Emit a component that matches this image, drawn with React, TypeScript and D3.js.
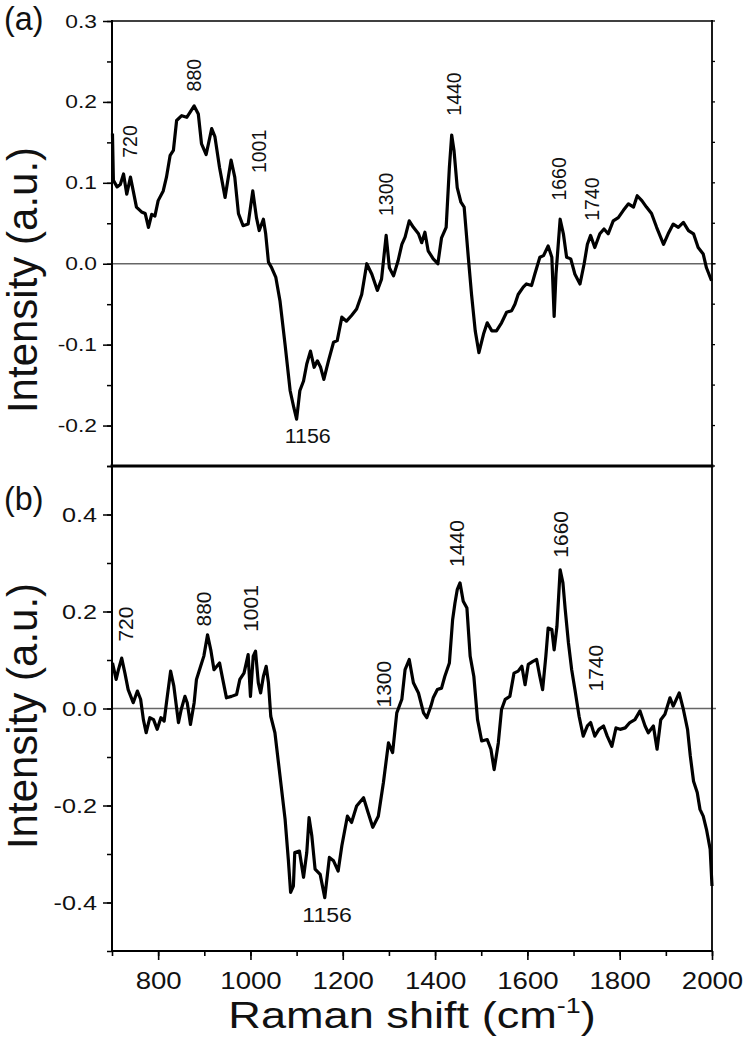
import React, { useRef, useEffect } from 'react';
import * as d3 from 'd3';

// panel (a): Raman shift (cm-1) and intensity
const shiftA = [
  701, 703, 711, 718, 725, 732, 740, 746, 753, 764, 772, 779, 786, 793, 800, 811, 818, 826, 833, 840,
  851, 862, 869, 878, 887, 894, 904, 916, 923, 933, 945, 952, 958, 966, 974, 984, 995, 1005, 1013, 1019,
  1028, 1033, 1039, 1046, 1055, 1064, 1075, 1086, 1094, 1100, 1107, 1115, 1122, 1130, 1138, 1145, 1152, 1159, 1169, 1180,
  1188, 1198, 1208, 1219, 1230, 1241, 1252, 1263, 1275, 1284, 1294, 1301, 1310, 1320, 1328, 1335, 1344, 1353, 1364, 1371,
  1378, 1385, 1396, 1406, 1414, 1424, 1431, 1436, 1441, 1448, 1456, 1463, 1472, 1479, 1487, 1495, 1505, 1513, 1523, 1533,
  1544, 1555, 1566, 1573, 1580, 1591, 1598, 1609, 1616, 1627, 1635, 1645, 1653, 1658, 1662, 1671, 1678, 1685, 1694, 1703,
  1714, 1723, 1730, 1737, 1746, 1757, 1766, 1775, 1786, 1797, 1808, 1819, 1830, 1838, 1848, 1858, 1869, 1880, 1895, 1905,
  1916, 1927, 1938, 1949, 1960, 1970, 1981, 1988, 1999,
];
const intensityA = [
  0.161, 0.103, 0.095, 0.098, 0.111, 0.086, 0.107, 0.09, 0.07, 0.064, 0.062, 0.045, 0.061, 0.059, 0.078, 0.09, 0.107, 0.134, 0.14, 0.177,
  0.183, 0.181, 0.187, 0.195, 0.185, 0.148, 0.135, 0.167, 0.157, 0.119, 0.082, 0.107, 0.128, 0.107, 0.062, 0.047, 0.049, 0.09, 0.057, 0.041,
  0.055, 0.037, 0.002, -0.005, -0.017, -0.046, -0.1, -0.157, -0.178, -0.192, -0.157, -0.145, -0.124, -0.108, -0.128, -0.12, -0.128, -0.143, -0.12, -0.097,
  -0.095, -0.066, -0.071, -0.064, -0.056, -0.038, 0.0, -0.013, -0.033, -0.019, 0.035, -0.005, -0.015, 0.004, 0.024, 0.033, 0.053, 0.045, 0.037, 0.026,
  0.039, 0.016, 0.006, 0.0, 0.032, 0.045, 0.119, 0.159, 0.14, 0.094, 0.076, 0.07, 0.008, -0.038, -0.083, -0.11, -0.087, -0.073, -0.083, -0.083,
  -0.073, -0.06, -0.058, -0.05, -0.038, -0.029, -0.025, -0.027, -0.013, 0.008, 0.01, 0.022, 0.008, -0.065, -0.013, 0.055, 0.037, 0.008, 0.006, -0.013,
  -0.025, 0.0, 0.024, 0.035, 0.02, 0.037, 0.043, 0.037, 0.053, 0.057, 0.066, 0.074, 0.07, 0.084, 0.078, 0.07, 0.062, 0.045, 0.024, 0.037,
  0.049, 0.045, 0.051, 0.041, 0.037, 0.02, 0.012, -0.005, -0.021,
];

// panel (b)
const shiftB = [
  701, 709, 714, 721, 728, 735, 746, 755, 762, 768, 774, 782, 790, 798, 806, 813, 818, 827, 834, 844,
  850, 858, 863, 870, 878, 883, 892, 899, 907, 914, 921, 933, 940, 948, 959, 970, 977, 986, 995, 1000,
  1006, 1011, 1017, 1022, 1028, 1034, 1039, 1044, 1053, 1064, 1075, 1082, 1087, 1093, 1096, 1106, 1115, 1122, 1127, 1133,
  1140, 1151, 1161, 1171, 1180, 1190, 1198, 1210, 1219, 1230, 1245, 1255, 1265, 1277, 1288, 1299, 1308, 1317, 1328, 1335,
  1344, 1353, 1364, 1375, 1382, 1391, 1396, 1405, 1414, 1421, 1431, 1438, 1443, 1448, 1454, 1461, 1469, 1476, 1484, 1492,
  1501, 1513, 1521, 1528, 1537, 1544, 1552, 1562, 1571, 1580, 1588, 1595, 1602, 1612, 1620, 1627, 1633, 1640, 1645, 1653,
  1658, 1664, 1671, 1677, 1682, 1689, 1696, 1703, 1712, 1721, 1730, 1737, 1746, 1755, 1765, 1773, 1783, 1792, 1801, 1812,
  1822, 1833, 1844, 1855, 1862, 1873, 1881, 1889, 1898, 1909, 1916, 1929, 1938, 1947, 1953, 1960, 1968, 1974, 1981, 1988,
  1996, 2000,
];
const intensityB = [
  0.094, 0.06, 0.08, 0.104, 0.073, 0.039, 0.012, 0.036, 0.019, -0.023, -0.05, -0.019, -0.023, -0.043, -0.019, -0.026, 0.012, 0.077, 0.046, -0.029,
  -0.002, 0.025, 0.012, -0.033, 0.012, 0.06, 0.087, 0.108, 0.152, 0.121, 0.08, 0.094, 0.06, 0.022, 0.025, 0.029, 0.06, 0.073, 0.111, 0.025,
  0.108, 0.118, 0.053, 0.032, 0.066, 0.087, 0.053, -0.016, -0.05, -0.139, -0.228, -0.311, -0.379, -0.366, -0.297, -0.294, -0.348, -0.297, -0.225, -0.263,
  -0.331, -0.342, -0.39, -0.307, -0.314, -0.335, -0.283, -0.222, -0.235, -0.201, -0.184, -0.215, -0.245, -0.222, -0.153, -0.071, -0.091, -0.009, 0.019, 0.08,
  0.101, 0.053, 0.032, -0.009, -0.019, 0.005, 0.022, 0.039, 0.042, 0.066, 0.094, 0.183, 0.217, 0.245, 0.259, 0.221, 0.207, 0.108, 0.066, -0.023,
  -0.067, -0.064, -0.084, -0.126, -0.071, -0.002, 0.019, 0.025, 0.073, 0.077, 0.087, 0.049, 0.091, 0.097, 0.101, 0.066, 0.039, 0.108, 0.166, 0.163,
  0.121, 0.169, 0.286, 0.259, 0.204, 0.135, 0.08, 0.039, -0.016, -0.057, -0.036, -0.029, -0.057, -0.043, -0.036, -0.057, -0.078, -0.04, -0.043, -0.04,
  -0.029, -0.023, -0.005, -0.036, -0.05, -0.036, -0.084, -0.023, -0.012, 0.022, 0.005, 0.032, -0.002, -0.043, -0.098, -0.15, -0.173, -0.208, -0.222, -0.249,
  -0.29, -0.366,
];

const xTicks = [800, 1000, 1200, 1400, 1600, 1800, 2000];
const yTicksA = [0.3, 0.2, 0.1, 0, -0.1, -0.2];
const yTicksB = [0.4, 0.2, 0, -0.2, -0.4];

// band assignments written over the peaks, anchored in data units (shift, intensity)
const peakLabels = ['720', '880', '1001', '1300', '1440', '1660', '1740'];
const peakShiftA = [738, 877, 1018, 1293, 1441, 1669, 1741];
const peakLevelA = [0.131, 0.213, 0.112, 0.059, 0.183, 0.078, 0.053];
const peakShiftB = [729, 899, 1001, 1288, 1446, 1671, 1747];
const peakLevelB = [0.138, 0.169, 0.158, 0.002, 0.292, 0.311, 0.035];
const dipLabel = '1156';
const dipA = [1124, -0.221];
const dipB = [1166, -0.44];

const font = "'Liberation Sans', Arial, Helvetica, sans-serif";

function App() {
  const svgRef = useRef(null);

  useEffect(() => {
    const svg = d3.select(svgRef.current);
    svg.selectAll('*').remove();

    const left = 112;
    const right = 712;
    const x = d3.scaleLinear().domain([700, 2000]).range([left, right]);
    const yA = d3.scaleLinear().domain([-0.25, 0.3]).range([466, 21]);
    const yB = d3.scaleLinear().domain([-0.5, 0.5]).range([951, 466]);

    const panels = [
      {
        y: yA, shifts: shiftA, values: intensityA, ticks: yTicksA, step: 0.05, tickFs: 19,
        peakShift: peakShiftA, peakLevel: peakLevelA, peakFs: 19.5, dip: dipA, titleY: 280,
        letter: '(a)', letterY: 30, rightTicks: true,
      },
      {
        y: yB, shifts: shiftB, values: intensityB, ticks: yTicksB, step: 0.1, tickFs: 21,
        peakShift: peakShiftB, peakLevel: peakLevelB, peakFs: 21, dip: dipB, titleY: 716,
        letter: '(b)', letterY: 510, rightTicks: false,
      },
    ];

    panels.forEach((p) => {
      const [lo, hi] = p.y.domain();
      const minor = d3.range(Math.round((hi - lo) / p.step) + 1).map((i) => lo + i * p.step);

      // zero line
      svg.append('line')
        .attr('x1', left).attr('x2', right + 4)
        .attr('y1', p.y(0)).attr('y2', p.y(0))
        .attr('stroke', '#666').attr('stroke-width', 1.3);

      // spectrum
      const pts = p.shifts.map((s, i) => [s, p.values[i]]);
      svg.append('path')
        .datum(pts)
        .attr('fill', 'none')
        .attr('stroke', '#000')
        .attr('stroke-width', 3.2)
        .attr('stroke-linejoin', 'round')
        .attr('d', d3.line().x((d) => x(d[0])).y((d) => p.y(d[1])));

      // minor y ticks
      svg.append('g')
        .attr('transform', `translate(${left},0)`)
        .call(d3.axisLeft(p.y).tickValues(minor).tickSize(5).tickFormat(() => ''))
        .call((g) => g.select('.domain').remove())
        .call((g) => g.selectAll('line').attr('stroke-width', 1.5));

      // major y ticks + labels
      svg.append('g')
        .attr('transform', `translate(${left},0)`)
        .call(d3.axisLeft(p.y).tickValues(p.ticks).tickSize(9).tickPadding(3.5)
          .tickFormat((d) => (+d).toFixed(1)))
        .call((g) => g.select('.domain').remove())
        .call((g) => g.selectAll('line').attr('stroke-width', 1.5))
        .call((g) => g.selectAll('text')
          .attr('font-size', p.tickFs)
          .attr('font-family', font)
          .attr('fill', '#111')
          .attr('transform', 'scale(1.2,1)'));

      if (p.rightTicks) {
        svg.append('g')
          .selectAll('line')
          .data(minor)
          .join('line')
          .attr('x1', right).attr('x2', right + 3)
          .attr('y1', (d) => p.y(d)).attr('y2', (d) => p.y(d))
          .attr('stroke', '#000').attr('stroke-width', 1.3);
      }

      // peak annotations
      svg.append('g')
        .selectAll('text')
        .data(peakLabels)
        .join('text')
        .attr('transform', (d, i) => `translate(${x(p.peakShift[i])},${p.y(p.peakLevel[i])}) rotate(-90)`)
        .attr('dominant-baseline', 'central')
        .attr('font-family', font)
        .attr('font-size', p.peakFs)
        .attr('fill', '#111')
        .text((d) => d);

      svg.append('text')
        .attr('transform', `translate(${x(p.dip[0])},${p.y(p.dip[1])}) scale(1.1,1)`)
        .attr('text-anchor', 'middle')
        .attr('font-family', font)
        .attr('font-size', p.peakFs)
        .attr('fill', '#111')
        .text(dipLabel);

      // y title
      svg.append('text')
        .attr('transform', `translate(37,${p.titleY}) rotate(-90)`)
        .attr('text-anchor', 'middle')
        .attr('font-family', font)
        .attr('font-size', 42)
        .attr('fill', '#111')
        .text('Intensity (a.u.)');

      // panel letter
      svg.append('text')
        .attr('transform', `translate(4,${p.letterY}) scale(0.95,1)`)
        .attr('font-family', font)
        .attr('font-size', 34)
        .attr('fill', '#111')
        .text(p.letter);
    });

    // x ticks
    svg.append('g')
      .attr('transform', 'translate(0,951)')
      .call(d3.axisBottom(x).tickValues(d3.range(700, 2001, 100)).tickSize(5).tickFormat(() => ''))
      .call((g) => g.select('.domain').remove())
      .call((g) => g.selectAll('line').attr('stroke-width', 1.6));

    svg.append('g')
      .attr('transform', 'translate(0,951)')
      .call(d3.axisBottom(x).tickValues(xTicks).tickSize(9).tickPadding(13)
        .tickFormat((d) => String(d)))
      .call((g) => g.select('.domain').remove())
      .call((g) => g.selectAll('line').attr('stroke-width', 1.6))
      .call((g) => g.selectAll('text')
        .attr('font-size', 23)
        .attr('font-family', font)
        .attr('fill', '#111')
        .attr('transform', 'scale(1.2,1)'));

    // frame
    const frame = [
      [left, 21, right, 21, 1.5],
      [right, 21, right, 951, 1.8],
      [left, 466, right, 466, 3],
      [left, 951, right, 951, 2],
      [left, 21, left, 951, 2],
    ];
    svg.append('g')
      .selectAll('line')
      .data(frame)
      .join('line')
      .attr('x1', (d) => d[0]).attr('y1', (d) => d[1])
      .attr('x2', (d) => d[2]).attr('y2', (d) => d[3])
      .attr('stroke', '#000')
      .attr('stroke-width', (d) => d[4])
      .attr('stroke-linecap', 'square');

    // x title
    const xt = svg.append('text')
      .attr('transform', `translate(${(left + right) / 2},1028) scale(1.22,1)`)
      .attr('text-anchor', 'middle')
      .attr('font-family', font)
      .attr('font-size', 37)
      .attr('fill', '#111');
    xt.append('tspan').text('Raman shift (cm');
    xt.append('tspan').attr('font-size', 22).attr('dy', -15).text('-1');
    xt.append('tspan').attr('dy', 15).text(')');
  }, []);

  return (
    <svg
      ref={svgRef}
      width={750}
      height={1058}
      style={{ position: 'absolute', left: 0, top: 0, background: '#fff' }}
    />
  );
}

export default App;
